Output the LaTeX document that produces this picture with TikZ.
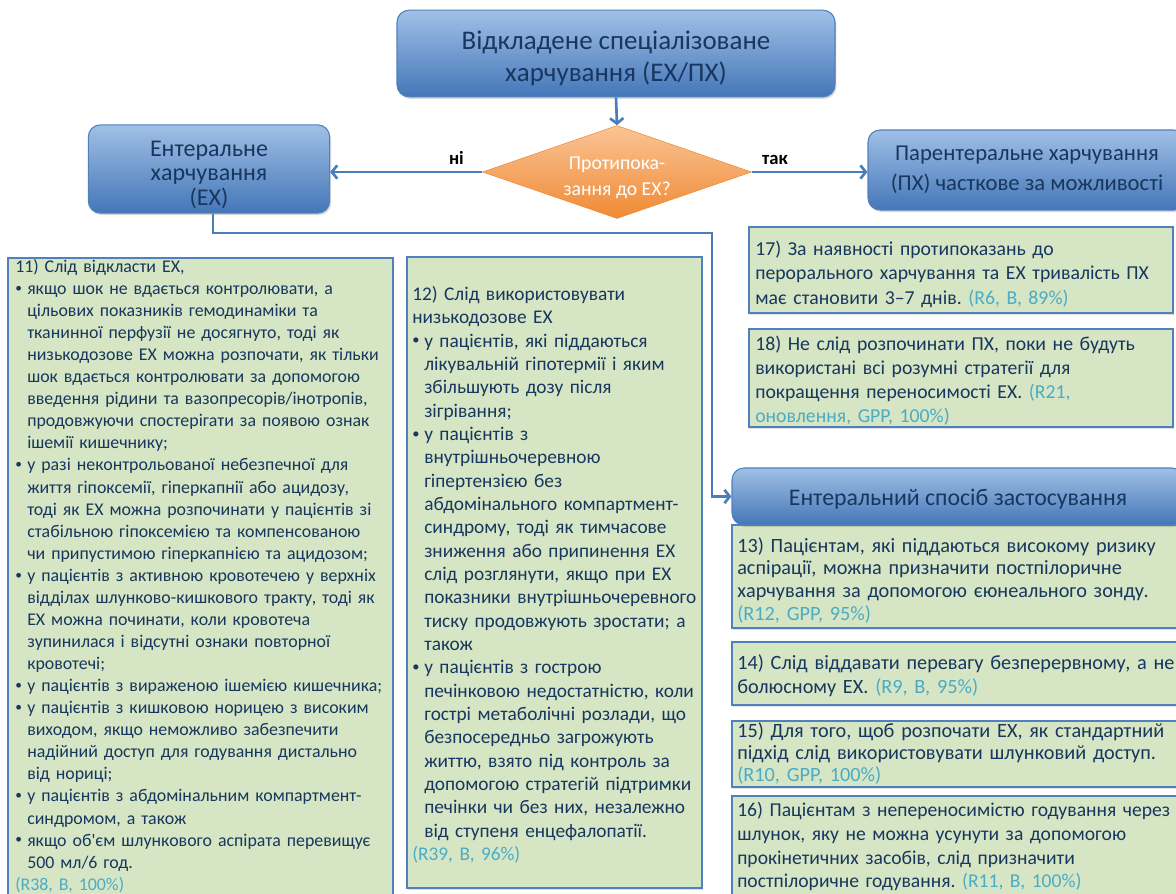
\documentclass[tikz,border=0pt]{standalone}
\usepackage{fontspec}
\setmainfont{Carlito}
\usepackage{tikz}
\usetikzlibrary{arrows.meta,calc,positioning,shapes.geometric,shadows}
\definecolor{hdrtop}{RGB}{160,192,230}
\definecolor{hdrbot}{RGB}{68,118,184}
\definecolor{hdrline}{RGB}{79,129,189}
\definecolor{navytext}{RGB}{23,55,94}
\definecolor{notegreen}{RGB}{214,229,196}
\definecolor{refcyan}{RGB}{75,172,198}
\definecolor{flowblue}{RGB}{74,126,187}
\definecolor{dmtop}{RGB}{250,196,150}
\definecolor{dmbot}{RGB}{240,138,52}
\setlength{\parindent}{0pt}
\frenchspacing
\newcommand{\bitem}{\par\hangindent=9pt\hangafter=1\noindent\makebox[9pt][l]{\raisebox{1.6pt}{\scalebox{0.75}{\textbullet}}}}
\newcommand{\grade}[1]{{\color{refcyan}#1}}
\newcommand{\topgap}[1]{\rule{0pt}{#1}}

\begin{document}
\begin{tikzpicture}[x=0.75pt,y=-0.75pt,>={Straight Barb[length=4pt,width=10pt]},
  hdr/.style={draw=hdrline,line width=0.8pt,rounded corners=9pt,top color=hdrtop,bottom color=hdrbot,
    text=navytext,align=center,drop shadow={opacity=0.3,shadow xshift=1pt,shadow yshift=-1.5pt}},
  note/.style={draw=hdrline,line width=1.1pt,fill=notegreen,inner sep=0pt,
    drop shadow={opacity=0.25,shadow xshift=1pt,shadow yshift=-1.5pt}},
  notetxt/.style={anchor=north west,inner sep=0pt,align=left,text=navytext,text width=350pt},
  flow/.style={draw=flowblue,line width=2pt}]
  \useasboundingbox (0,0) rectangle (1176,893);

  % top of the chart
  \node[hdr,minimum width=328.5pt,minimum height=65pt,font=\fontsize{20.2}{24}\selectfont] (delay) at (616,53.5) {\topgap{21pt}Відкладене спеціалізоване\\харчування (ЕХ/ПХ)};
  \node[diamond,aspect=2.9,inner sep=0pt,minimum width=201.75pt,minimum height=69.75pt,top color=dmtop,bottom color=dmbot,draw=dmbot,
    text=white,align=center,font=\fontsize{14.8}{19}\selectfont] (contra) at (617,172) {\topgap{18pt}Протипока-\\зання до ЕХ?};
  \node[hdr,minimum width=181pt,minimum height=66pt,font=\fontsize{18}{18.5}\selectfont] (enteral) at (209,169) {\topgap{20pt}Ентеральне\\харчування\\(ЕХ)};
  \node[hdr,minimum width=238.5pt,minimum height=60pt,font=\fontsize{17}{22.5}\selectfont] (parent) at (1027,170) {Парентеральне харчування\\(ПХ) часткове за можливості};

  % green notes
  \node[note,minimum width=288.75pt,minimum height=481.5pt] (n11) at (200.5,579) {};
  \node[note,minimum width=221.25pt,minimum height=473.25pt] (n12) at (554.5,572.5) {};
  \node[note,minimum width=318pt,minimum height=64.5pt] (n17) at (961,270) {};
  \node[note,minimum width=318pt,minimum height=73.5pt] (n18) at (961,378) {};
  \node[note,minimum width=343.5pt,minimum height=77.25pt] (n13) at (961,576.5) {};
  \node[note,minimum width=343.5pt,minimum height=47.25pt] (n14) at (961,673.5) {};
  \node[note,minimum width=343.5pt,minimum height=49.5pt] (n15) at (961,754) {};
  \node[note,minimum width=343.5pt,minimum height=85.5pt] (n16) at (961,853) {};
  \node[hdr,minimum width=339pt,minimum height=42.75pt,font=\fontsize{17.85}{20}\selectfont] (route) at (958,496.5) {\topgap{16pt}Ентеральний спосіб застосування};

  \node[notetxt,font=\fontsize{13.4}{16.55}\selectfont] (t11) at (15,259) {11) Слід відкласти ЕХ,
    \bitem якщо шок не вдається контролювати, а\newline цільових показників гемодинаміки та\newline тканинної перфузії не досягнуто, тоді як\newline низькодозове ЕХ можна розпочати, як тільки\newline шок вдається контролювати за допомогою\newline введення рідини та вазопресорів/інотропів,\newline продовжуючи спостерігати за появою ознак\newline ішемії кишечнику;
    \bitem у разі неконтрольованої небезпечної для\newline життя гіпоксемії, гіперкапнії або ацидозу,\newline тоді як ЕХ можна розпочинати у пацієнтів зі\newline стабільною гіпоксемією та компенсованою\newline чи припустимою гіперкапнією та ацидозом;
    \bitem у пацієнтів з активною кровотечею у верхніх\newline відділах шлунково-кишкового тракту, тоді як\newline ЕХ можна починати, коли кровотеча\newline зупинилася і відсутні ознаки повторної\newline кровотечі;
    \bitem у пацієнтів з вираженою ішемією кишечника;
    \bitem у пацієнтів з кишковою норицею з високим\newline виходом, якщо неможливо забезпечити\newline надійний доступ для годування дистально\newline від нориці;
    \bitem у пацієнтів з абдомінальним компартмент-\newline синдромом, а також
    \bitem якщо об\textquotesingle єм шлункового аспірата перевищує\newline 500 мл/6 год.
    \par\grade{(R38, B, 100\%)}};
  \node[notetxt,font=\fontsize{14.5}{17.5}\selectfont] (t12) at (412,286) {12) Слід використовувати\newline низькодозове ЕХ
    \bitem у пацієнтів, які піддаються\newline лікувальній гіпотермії і яким\newline збільшують дозу після\newline зігрівання;
    \bitem у пацієнтів з\newline внутрішньочеревною\newline гіпертензією без\newline абдомінального компартмент-\newline синдрому, тоді як тимчасове\newline зниження або припинення ЕХ\newline слід розглянути, якщо при ЕХ\newline показники внутрішньочеревного\newline тиску продовжують зростати; а\newline також
    \bitem у пацієнтів з гострою\newline печінковою недостатністю, коли\newline гострі метаболічні розлади, що\newline безпосередньо загрожують\newline життю, взято під контроль за\newline допомогою стратегій підтримки\newline печінки чи без них, незалежно\newline від ступеня енцефалопатії.
    \par\grade{(R39, B, 96\%)}};
  \node[notetxt,font=\fontsize{14.8}{18.2}\selectfont] (t17) at (755,241) {17) За наявності протипоказань до\newline перорального харчування та ЕХ тривалість ПХ\newline має становити 3–7 днів. \grade{(R6, B, 89\%)}};
  \node[notetxt,font=\fontsize{14.8}{18}\selectfont] (t18) at (755,336) {18) Не слід розпочинати ПХ, поки не будуть\newline використані всі розумні стратегії для\newline покращення переносимості ЕХ. \grade{(R21,}\newline \grade{оновлення, GPP, 100\%)}};
  \node[notetxt,font=\fontsize{15.2}{17.1}\selectfont] (t13) at (737,537) {13) Пацієнтам, які піддаються високому ризику\newline аспірації, можна призначити постпілоричне\newline харчування за допомогою єюнеального зонду.\newline \grade{(R12, GPP, 95\%)}};
  \node[notetxt,font=\fontsize{15.2}{18}\selectfont] (t14) at (737,654) {14) Слід віддавати перевагу безперервному, а не\newline болюсному ЕХ. \grade{(R9, B, 95\%)}};
  \node[notetxt,font=\fontsize{15.2}{16.7}\selectfont] (t15) at (737,722) {15) Для того, щоб розпочати ЕХ, як стандартний\newline підхід слід використовувати шлунковий доступ.\newline \grade{(R10, GPP, 100\%)}};
  \node[notetxt,font=\fontsize{14.7}{17.8}\selectfont] (t16) at (737,802) {16) Пацієнтам з непереносимістю годування через\newline шлунок, яку не можна усунути за допомогою\newline прокінетичних засобів, слід призначити\newline постпілоричне годування. \grade{(R11, B, 100\%)}};

  % connectors
  \coordinate (turn) at (712,233);
  \draw[flow,->] (delay.south) -- (contra.north);
  \draw[flow,->] (contra.west) -- (contra.west -| enteral.east) node[pos=0.17,above=1pt,font=\fontsize{14}{16}\selectfont\bfseries] (no) {ні};
  \draw[flow,->] (contra.east) -- (contra.east -| parent.west) node[pos=0.2,above=1pt,font=\fontsize{14}{16}\selectfont\bfseries] (yes) {так};
  \draw[flow,->] ([xshift=3pt]enteral.south) |- (turn) |- (route.west);
\end{tikzpicture}
\end{document}
